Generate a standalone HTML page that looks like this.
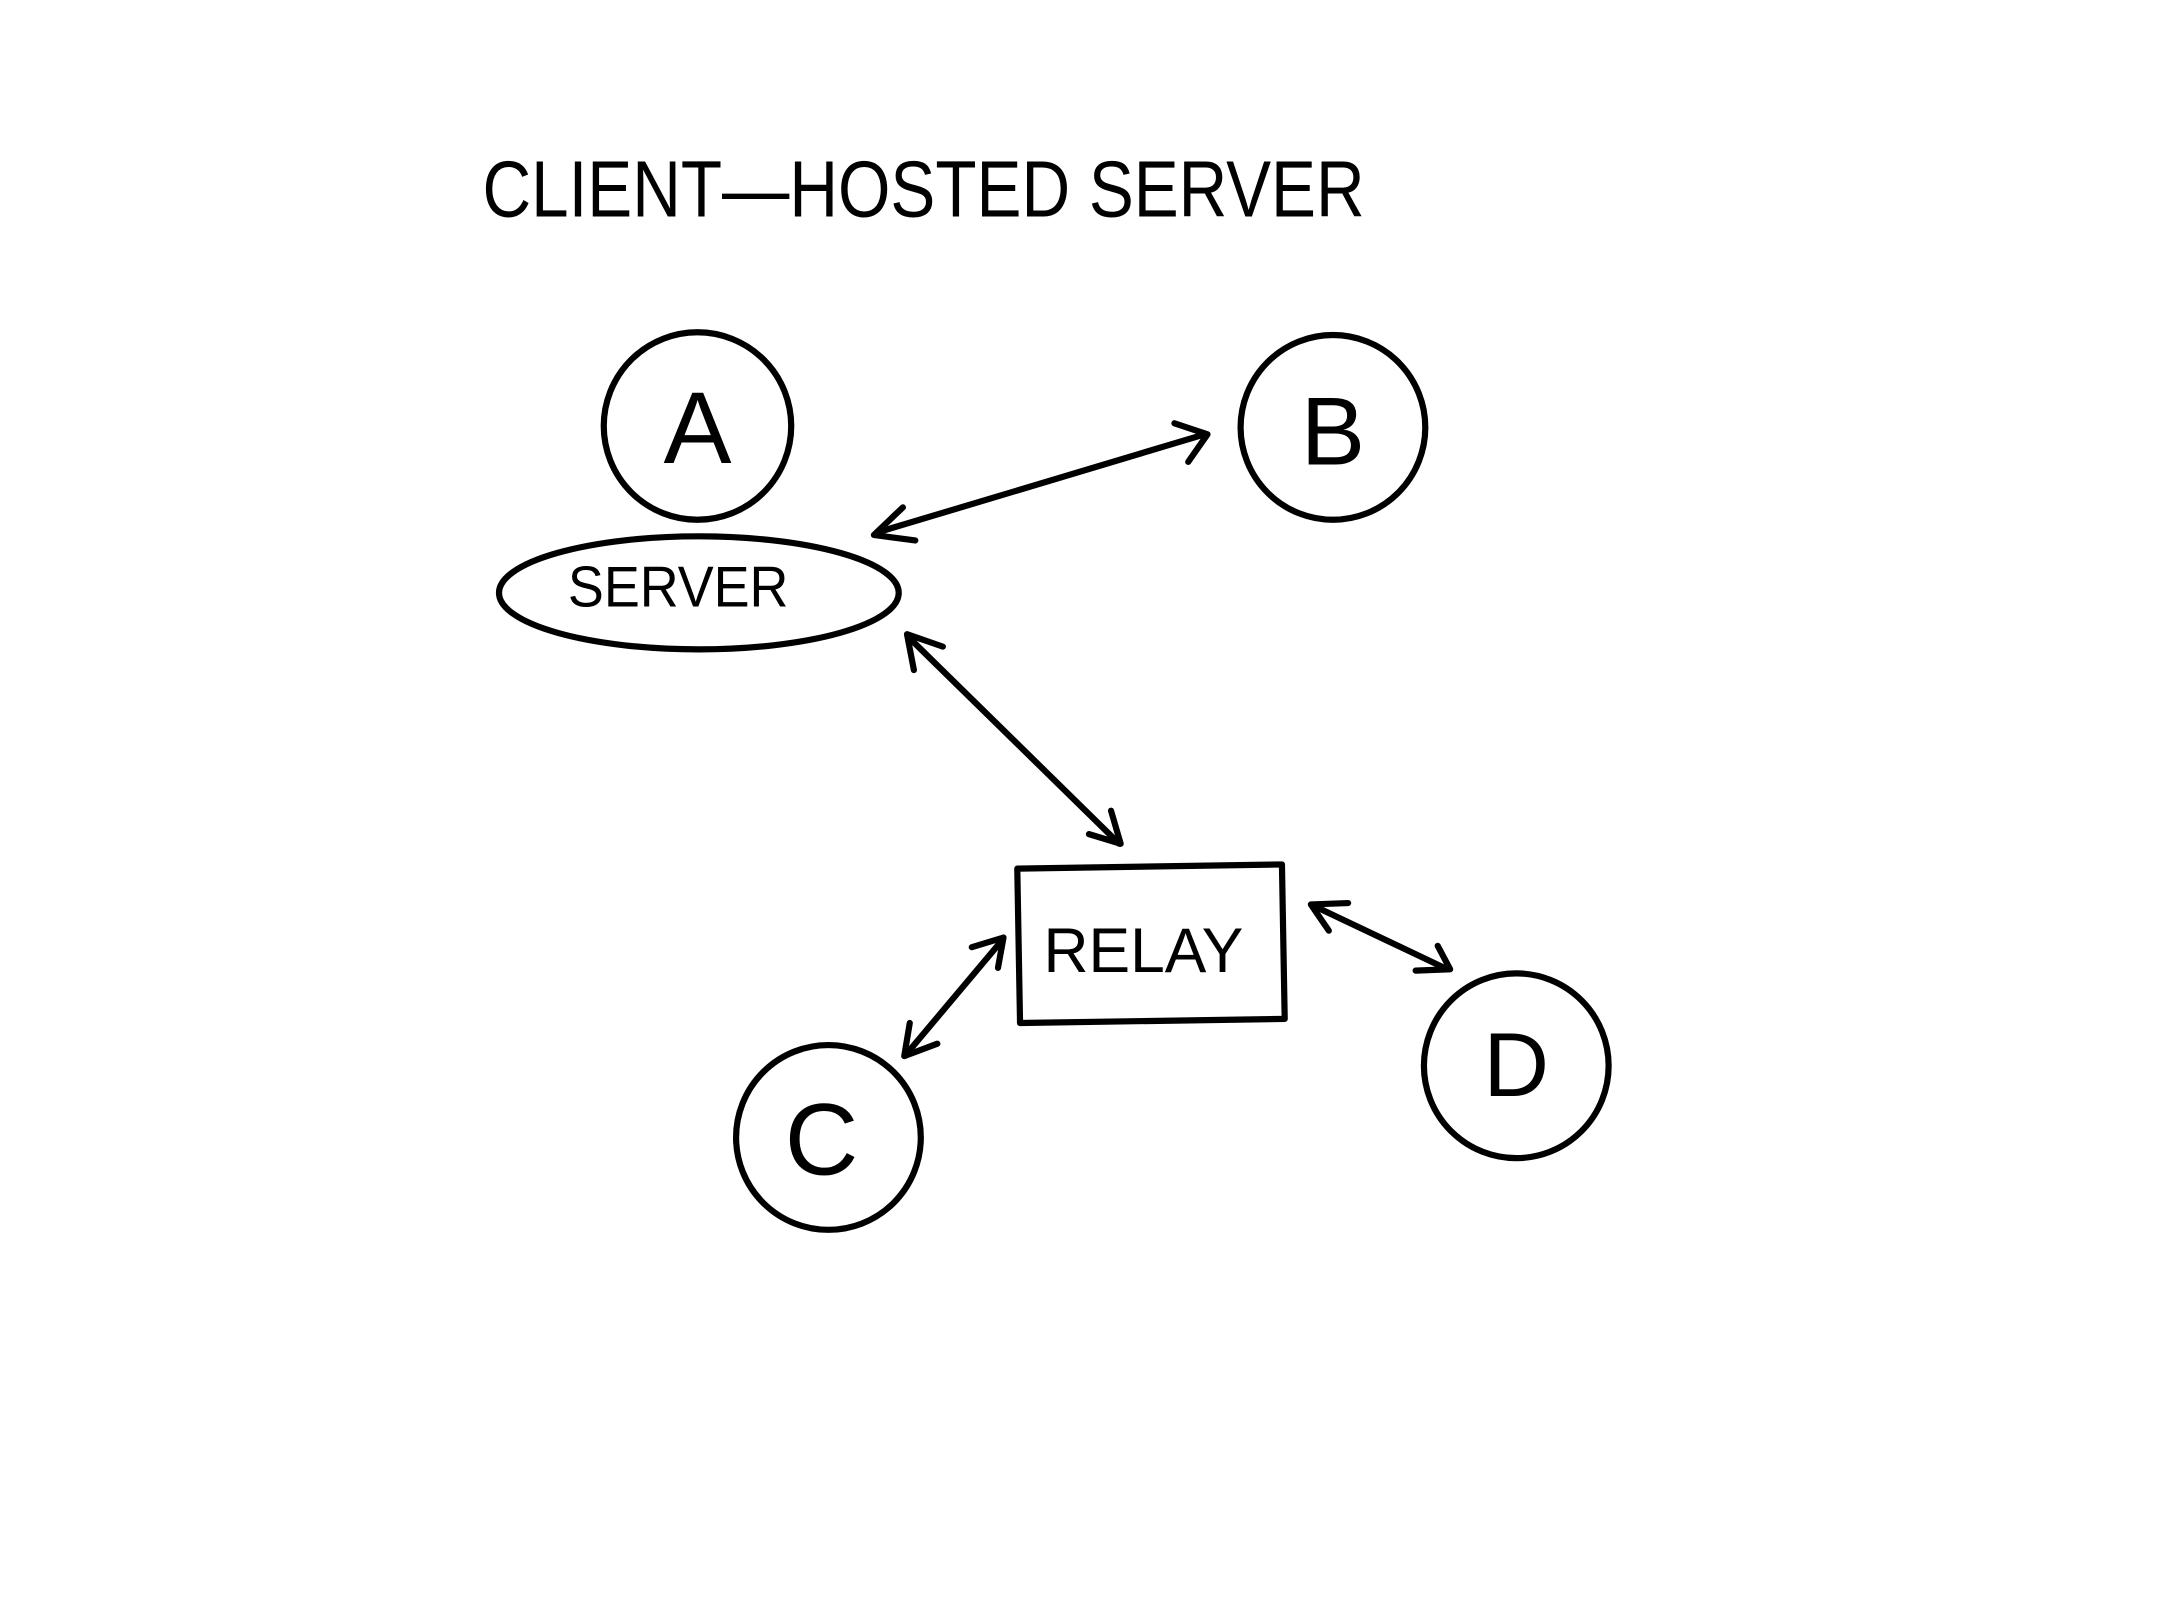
<!DOCTYPE html>
<html><head><meta charset="utf-8"><style>
html,body{margin:0;padding:0;background:#fff;}
svg{display:block;}
text{font-family:"Liberation Sans",sans-serif;fill:#000;}
</style></head><body>
<svg width="2160" height="1620" viewBox="0 0 1567 1175" preserveAspectRatio="none" xmlns="http://www.w3.org/2000/svg">
<rect width="1567" height="1175" fill="#fff"/>
<g fill="none" stroke="#000" stroke-width="4.5" stroke-linecap="round" stroke-linejoin="round">
<circle cx="506" cy="309" r="68"/>
<circle cx="967" cy="310" r="67"/>
<circle cx="601" cy="825" r="67"/>
<circle cx="1100" cy="773" r="67"/>
<ellipse cx="507" cy="430" rx="145" ry="41"/>
<path d="M738 630 L930 627 L932 739 L740 742 Z"/>
<path d="M637 386 L874 315"/>
<path d="M664 392 L634 388 L655 368"/>
<path d="M852 307 L876 315 L862 335"/>
<path d="M660 463 L812 612"/>
<path d="M663 486 L658 460 L684 469"/>
<path d="M790 605 L813 612 L806 588"/>
<path d="M727 682 L658 764"/>
<path d="M705 687 L728 680 L724 702"/>
<path d="M660 742 L656 766 L680 757"/>
<path d="M953 657 L1050 703"/>
<path d="M964 675 L951 656 L978 655"/>
<path d="M1027 704 L1052 703 L1043 686"/>
</g>
<text x="350" y="157" font-size="58" textLength="640" lengthAdjust="spacingAndGlyphs">CLIENT—HOSTED SERVER</text>
<text x="412" y="440" font-size="42" textLength="160" lengthAdjust="spacingAndGlyphs">SERVER</text>
<text x="757" y="705" font-size="46" textLength="145" lengthAdjust="spacingAndGlyphs">RELAY</text>
<text x="506" y="336" font-size="74" text-anchor="middle">A</text>
<text x="967" y="337" font-size="70" text-anchor="middle">B</text>
<text x="596" y="852" font-size="74" text-anchor="middle">C</text>
<text x="1100" y="795" font-size="66" text-anchor="middle">D</text>
</svg>
</body></html>
